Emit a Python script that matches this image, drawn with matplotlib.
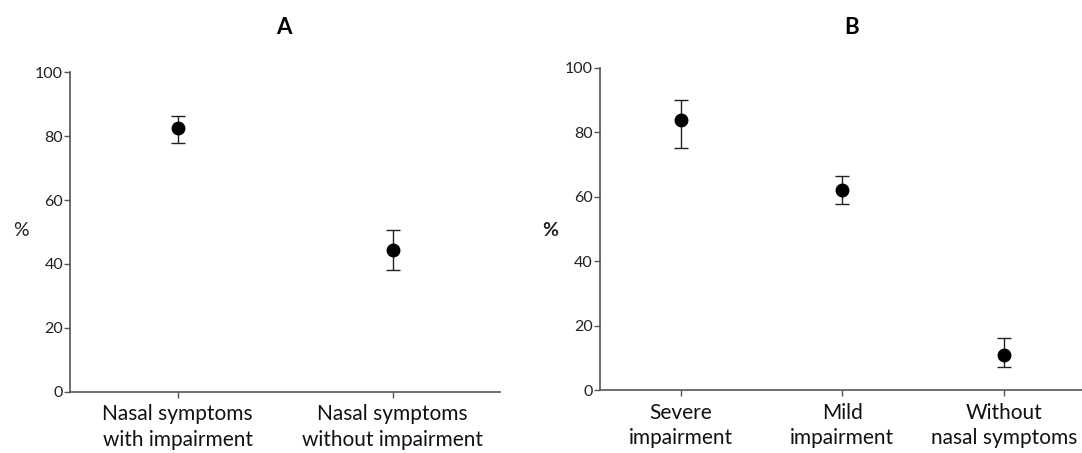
#!/usr/bin/env python3
# -*- coding: utf-8 -*-
"""Two-panel dot plot with error bars (A: nasal symptoms, B: impairment level)"""

import matplotlib
matplotlib.use("Agg")
import matplotlib.pyplot as plt

# Panel A data
labels_a = ["Nasal symptoms\nwith impairment", "Nasal symptoms\nwithout impairment"]
pct_a = [82.5, 44.3]
low_a = [77.9, 38.1]
high_a = [86.3, 50.6]

# Panel B data
labels_b = ["Severe\nimpairment", "Mild\nimpairment", "Without\nnasal symptoms"]
pct_b = [83.9, 62.1, 10.9]
low_b = [75.2, 57.7, 7.1]
high_b = [90.0, 66.5, 16.1]

yticks = [0, 20, 40, 60, 80, 100]

plt.rcParams['font.family'] = ['Lato', 'DejaVu Sans']

fig = plt.figure(figsize=(10.82, 4.53), dpi=100)
ax_a = fig.add_axes([0.0647, 0.1347, 0.3975, 0.7063])
ax_b = fig.add_axes([0.5545, 0.139, 0.448, 0.711])


def draw_panel(ax, labels, pct, low, high):
    x = list(range(1, len(labels) + 1))
    yerr = [[p - l for p, l in zip(pct, low)], [h - p for p, h in zip(pct, high)]]
    ax.errorbar(x, pct, yerr=yerr, fmt='o', color='black', markersize=9,
                elinewidth=1.0, capsize=4.8, capthick=1.0, ecolor='#222222')
    ax.set_xlim(0.5, len(labels) + 0.5)
    ax.set_ylim(0, 100)
    ax.set_yticks(yticks)
    ax.set_xticks(x)
    ax.set_xticklabels(labels, fontsize=15, color='#111111', linespacing=1.35)
    ax.tick_params(axis='y', labelsize=11.5, colors='#555555', labelcolor='#222222',
                   length=4, width=1.0, direction='out', pad=1)
    ax.tick_params(axis='x', colors='#555555', labelcolor='#111111',
                   length=4, width=1.0, direction='out', pad=5)
    for side in ['top', 'right']:
        ax.spines[side].set_visible(False)
    for side in ['left', 'bottom']:
        ax.spines[side].set_color('#555555')
        ax.spines[side].set_linewidth(1.2)


draw_panel(ax_a, labels_a, pct_a, low_a, high_a)
draw_panel(ax_b, labels_b, pct_b, low_b, high_b)

fig.text(21 / 1082, 1 - 230 / 453, '%', fontsize=14, color='#222222', ha='center', va='center')
fig.text(550 / 1082, 1 - 230 / 453, '%', fontsize=14, fontweight='bold', color='#222222',
         ha='center', va='center')

fig.text(284 / 1082, 1 - 27 / 453, 'A', fontsize=16, fontweight='bold', ha='center', va='center')
fig.text(852 / 1082, 1 - 27 / 453, 'B', fontsize=16, fontweight='bold', ha='center', va='center')

fig.savefig('out.png', dpi=100, facecolor='white')
